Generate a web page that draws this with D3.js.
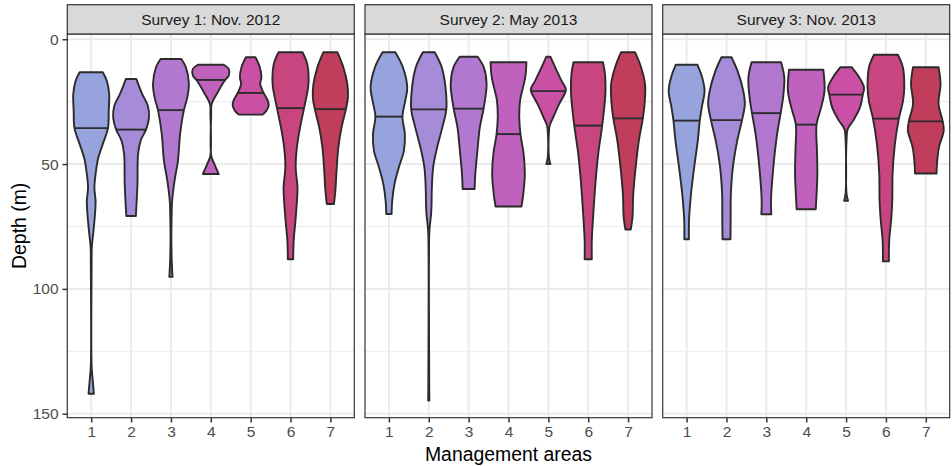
<!DOCTYPE html>
<html>
<head>
<meta charset="utf-8">
<script src="https://cdn.jsdelivr.net/npm/d3@7"></script>
<style>
  body { margin: 0; background: #fff; }
  svg { display: block; font-family: "Liberation Sans", Arial, sans-serif; }
</style>
</head>
<body>
<div id="chart"></div>
<script>
// Set dimensions
const width = 952,
      height = 466;

// Facets and categories
const surveys = ["Survey 1: Nov. 2012", "Survey 2: May 2013", "Survey 3: Nov. 2013"];
const areas = [1, 2, 3, 4, 5, 6, 7];
const areaColors = ["#97a3dc", "#a68bd9", "#b278cf", "#c062bd", "#c950a4", "#c8457f", "#c03e5c"];
const depthTicks = [0, 50, 100, 150];
const depthMinor = [25, 75, 125];

// Violin outlines: [depth (m), half width in area units]
const survey1Shapes = [
  [[13.2,0.29],[16.6,0.39],[21.9,0.45],[28.6,0.44],[35.6,0.42],[42,0.29],[47.3,0.18],[52.7,0.12],[59.4,0.08],[65,0.11],[71,0.09],[77.8,0.05],[83.2,0.015],[90,0.01],[131,0.01],[136,0.035],[142,0.067]],
  [[15.9,0.13],[22,0.28],[26.6,0.42],[31.3,0.45],[36.2,0.375],[40.6,0.24],[46,0.175],[58,0.16],[70.8,0.12]],
  [[7.9,0.26],[11.2,0.375],[17.9,0.45],[23.3,0.41],[28.4,0.325],[38,0.23],[48.7,0.175],[56.7,0.09],[64.7,0.03],[72.7,0.015],[80,0.01],[88.5,0.02],[95.2,0.04]],
  [[10.2,0.325],[11.9,0.45],[14.6,0.45],[16.3,0.36],[21.3,0.17],[26,0.02],[30,0.01],[46.7,0.012],[50,0.09],[54,0.2]],
  [[7.2,0.12],[11.2,0.23],[15.3,0.27],[17.9,0.24],[21.5,0.325],[24.6,0.43],[26.6,0.45],[28.5,0.4],[30.2,0.3]],
  [[5.2,0.3],[9.9,0.42],[17.9,0.45],[27.6,0.34],[35.3,0.24],[43.3,0.16],[51.3,0.13],[59.4,0.175],[65,0.16],[72.5,0.125],[80.5,0.08],[88.1,0.067]],
  [[5.2,0.175],[11.2,0.325],[17.9,0.425],[23.3,0.44],[28,0.39],[35.3,0.28],[43.3,0.2],[51.3,0.16],[60.7,0.125],[66,0.09]]
];
const survey2Shapes = [
  [[5.2,0.16],[11.2,0.35],[19.3,0.46],[24.6,0.41],[31,0.34],[38,0.4],[44.7,0.375],[51.3,0.25],[58,0.14],[64.7,0.083],[70,0.067]],
  [[5.2,0.15],[11.2,0.325],[19.3,0.42],[28.1,0.44],[35.3,0.34],[43.3,0.21],[51.3,0.11],[60.7,0.075],[66,0.07],[70,0.058],[75,0.025],[78,0.012],[140,0.012],[144.7,0.015]],
  [[7,0.225],[11.2,0.38],[17.9,0.45],[27.8,0.375],[35.3,0.28],[44.7,0.22],[54,0.167],[60,0.15]],
  [[9.2,0.45],[15.3,0.42],[24.6,0.29],[31.3,0.27],[38,0.3],[46,0.38],[54,0.41],[62,0.37],[67,0.325]],
  [[7,0.05],[11.2,0.17],[16.6,0.33],[20,0.44],[21.5,0.42],[26,0.27],[31.3,0.12],[34.6,0.033],[37,0.015],[47.3,0.015],[50,0.05]],
  [[9.2,0.37],[13.9,0.42],[22,0.43],[34.6,0.35],[44.7,0.26],[54,0.2],[64.5,0.15],[72.5,0.117],[80.5,0.09],[88.1,0.09]],
  [[5.2,0.175],[11.2,0.325],[17.9,0.425],[24.6,0.42],[31.7,0.37],[40.6,0.27],[51.3,0.19],[62,0.13],[71.4,0.11],[76.2,0.067]]
];
const survey3Shapes = [
  [[10.2,0.27],[15.3,0.39],[20.6,0.45],[27.3,0.38],[32.6,0.33],[40.6,0.28],[51.3,0.19],[62,0.11],[72.7,0.06],[80.1,0.058]],
  [[7.2,0.125],[12.6,0.275],[20.6,0.42],[26,0.46],[32.4,0.39],[40.6,0.27],[51.3,0.16],[62,0.11],[72,0.105],[80.1,0.1]],
  [[9.2,0.37],[15.3,0.45],[23.3,0.42],[29.6,0.36],[38,0.27],[51.3,0.175],[64.7,0.117],[70.1,0.125]],
  [[12.2,0.43],[20.6,0.46],[27.3,0.375],[34.2,0.26],[44.7,0.27],[54,0.28],[62,0.26],[68.1,0.24]],
  [[11.2,0.14],[15.3,0.33],[19.3,0.45],[22.2,0.42],[27.3,0.35],[32.6,0.18],[36,0.04],[40,0.013],[62,0.013],[64.7,0.05]],
  [[6.2,0.3],[11.2,0.425],[19.3,0.46],[24.6,0.43],[31.8,0.325],[42,0.225],[54,0.167],[64.5,0.16],[72.5,0.13],[80.5,0.083],[89,0.075]],
  [[11.2,0.32],[17.9,0.37],[26,0.32],[32.9,0.425],[36.6,0.45],[43.3,0.33],[50,0.28],[53.8,0.27]]
];

// Median depth per area
const survey1Medians = [35.6, 36.2, 28.4, 16.3, 21.5, 27.6, 28.0];
const survey2Medians = [31.0, 28.1, 27.8, 38.0, 20.8, 34.6, 31.7];
const survey3Medians = [32.6, 32.4, 29.6, 34.2, 22.2, 31.8, 32.9];

// Layout
const panelLeft = 67.3, panelRight = 949.7, panelGap = 10.7;
const stripTop = 4.7, panelTop = 34, panelBottom = 417.7;
const panelWidth = (panelRight - panelLeft - 2 * panelGap) / 3;

const y = d3.scaleLinear()
  .domain([-2.1, 151.6])
  .range([panelTop, panelBottom]);

const svg = d3.select("#chart")
  .append("svg")
  .attr("width", width)
  .attr("height", height);

const shapesBySurvey = [survey1Shapes, survey2Shapes, survey3Shapes];
const mediansBySurvey = [survey1Medians, survey2Medians, survey3Medians];

// half width at a given depth (linear between read points)
function halfWidthAt(shape, depth) {
  for (let i = 1; i < shape.length; i++) {
    if (depth <= shape[i][0]) {
      const t = (depth - shape[i - 1][0]) / (shape[i][0] - shape[i - 1][0]);
      return shape[i - 1][1] + t * (shape[i][1] - shape[i - 1][1]);
    }
  }
  return shape[shape.length - 1][1];
}

shapesBySurvey.forEach((shapes, i) => {
  const left = panelLeft + i * (panelWidth + panelGap);
  const x = d3.scaleLinear()
    .domain([0.4, 7.6])
    .range([left, left + panelWidth]);

  const g = svg.append("g");

  // minor grid
  g.selectAll(".minor")
    .data(depthMinor)
    .enter()
    .append("line")
    .attr("x1", left).attr("x2", left + panelWidth)
    .attr("y1", d => y(d)).attr("y2", d => y(d))
    .attr("stroke", "#ebebeb")
    .attr("stroke-width", 1);

  // major grid
  g.selectAll(".majorY")
    .data(depthTicks)
    .enter()
    .append("line")
    .attr("x1", left).attr("x2", left + panelWidth)
    .attr("y1", d => y(d)).attr("y2", d => y(d))
    .attr("stroke", "#ebebeb")
    .attr("stroke-width", 2);

  g.selectAll(".majorX")
    .data(areas)
    .enter()
    .append("line")
    .attr("x1", d => x(d)).attr("x2", d => x(d))
    .attr("y1", panelTop).attr("y2", panelBottom)
    .attr("stroke", "#ebebeb")
    .attr("stroke-width", 2);

  // violins
  shapes.forEach((shape, k) => {
    const a = areas[k];
    const violin = d3.area()
      .curve(d3.curveCatmullRom.alpha(0.5))
      .y(d => y(d[0]))
      .x0(d => x(a - d[1]))
      .x1(d => x(a + d[1]));

    g.append("path")
      .datum(shape)
      .attr("d", violin)
      .attr("fill", areaColors[k])
      .attr("stroke", "#2b2b2b")
      .attr("stroke-width", 1.9)
      .attr("stroke-linejoin", "round");

    const m = mediansBySurvey[i][k];
    const hw = halfWidthAt(shape, m);
    g.append("line")
      .attr("x1", x(a - hw)).attr("x2", x(a + hw))
      .attr("y1", y(m)).attr("y2", y(m))
      .attr("stroke", "#2b2b2b")
      .attr("stroke-width", 1.9);
  });

  // panel border
  g.append("rect")
    .attr("x", left).attr("y", panelTop)
    .attr("width", panelWidth).attr("height", panelBottom - panelTop)
    .attr("fill", "none")
    .attr("stroke", "#333333")
    .attr("stroke-width", 1.2);

  // strip
  g.append("rect")
    .attr("x", left).attr("y", stripTop)
    .attr("width", panelWidth).attr("height", panelTop - stripTop)
    .attr("fill", "#d9d9d9")
    .attr("stroke", "#333333")
    .attr("stroke-width", 1.2);

  g.append("text")
    .attr("x", left + panelWidth / 2)
    .attr("y", (stripTop + panelTop) / 2 + 5.5)
    .attr("text-anchor", "middle")
    .style("font-size", "15.5px")
    .style("fill", "#1a1a1a")
    .text(surveys[i]);

  // x axis
  const xAxis = g.append("g")
    .attr("transform", `translate(0, ${panelBottom})`)
    .call(d3.axisBottom(x).tickValues(areas).tickSize(4.8).tickPadding(3.6));
  xAxis.select(".domain").remove();
  xAxis.selectAll("line").attr("stroke", "#333333").attr("stroke-width", 1.5);
  xAxis.selectAll("text")
    .style("font-size", "15.5px")
    .style("fill", "#4d4d4d");
  xAxis.attr("font-family", null).attr("font-size", null);

  // y axis on first panel only
  if (i === 0) {
    const yAxis = g.append("g")
      .attr("transform", `translate(${left}, 0)`)
      .call(d3.axisLeft(y).tickValues(depthTicks).tickSize(4.8).tickPadding(3.9));
    yAxis.select(".domain").remove();
    yAxis.selectAll("line").attr("stroke", "#333333").attr("stroke-width", 1.5);
    yAxis.selectAll("text")
      .style("font-size", "15.5px")
      .style("fill", "#4d4d4d");
    yAxis.attr("font-family", null).attr("font-size", null);
  }
});

// axis titles
svg.append("text")
  .attr("x", (panelLeft + panelRight) / 2)
  .attr("y", 461)
  .attr("text-anchor", "middle")
  .style("font-size", "19.4px")
  .style("fill", "#000")
  .text("Management areas");

svg.append("text")
  .attr("transform", `translate(26, ${(panelTop + panelBottom) / 2}) rotate(-90)`)
  .attr("text-anchor", "middle")
  .style("font-size", "19.4px")
  .style("fill", "#000")
  .text("Depth (m)");
</script>
</body>
</html>
